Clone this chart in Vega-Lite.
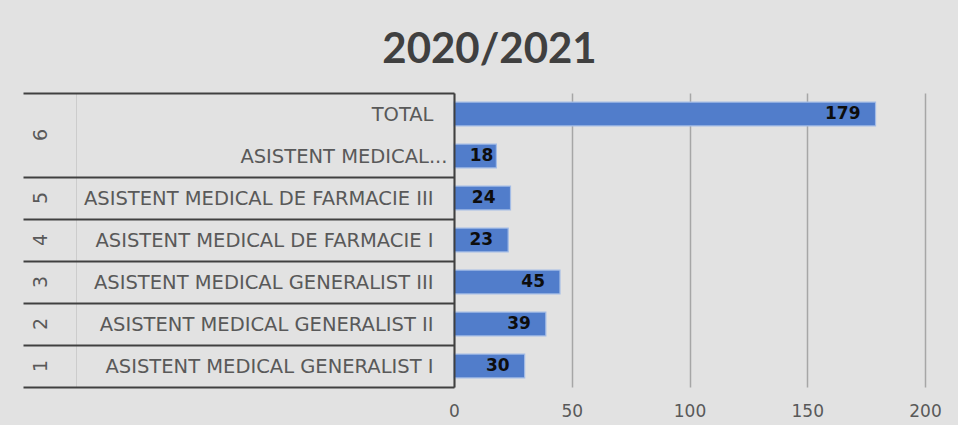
{
  "$schema": "https://vega.github.io/schema/vega-lite/v6.json",
  "width": 471,
  "height": 294,
  "autosize": {"type": "none"},
  "padding": {"left": 454, "top": 93, "right": 33, "bottom": 38},
  "background": "#e2e2e2",
  "title": {
    "text": "2020/2021",
    "font": "Lato",
    "fontSize": 42,
    "fontWeight": "bold",
    "color": "#404040",
    "anchor": "middle",
    "frame": "group",
    "dx": -200,
    "baseline": "alphabetic",
    "offset": -22
  },
  "data": {
    "values": [
      {"group": "6", "label": "TOTAL", "value": 179},
      {"group": "6", "label": "ASISTENT MEDICAL...", "value": 18},
      {"group": "5", "label": "ASISTENT MEDICAL DE FARMACIE III", "value": 24},
      {"group": "4", "label": "ASISTENT MEDICAL DE FARMACIE I", "value": 23},
      {"group": "3", "label": "ASISTENT MEDICAL GENERALIST III", "value": 45},
      {"group": "2", "label": "ASISTENT MEDICAL GENERALIST II", "value": 39},
      {"group": "1", "label": "ASISTENT MEDICAL GENERALIST I", "value": 30}
    ]
  },
  "encoding": {
    "x": {
      "field": "value",
      "type": "quantitative",
      "scale": {"domain": [0, 200], "nice": false, "zero": true},
      "axis": {
        "title": null,
        "domain": false,
        "ticks": false,
        "grid": true,
        "gridColor": "#a6a6a6",
        "gridWidth": 1.5,
        "values": [0, 50, 100, 150, 200],
        "labelFont": "DejaVu Sans",
        "labelFontSize": 17,
        "labelColor": "#595959",
        "labelPadding": 16,
        "labelFlush": false
      }
    }
  },
  "layer": [
    {
      "mark": {"type": "bar", "color": "#517dcb", "stroke": "#a3bce6", "strokeWidth": 1.2, "height": {"band": 0.57}},
      "encoding": {
        "y": {
          "field": "label",
          "type": "nominal",
          "sort": null,
          "scale": {"paddingInner": 0, "paddingOuter": 0},
          "axis": {
            "orient": "left",
            "title": null,
            "grid": false,
            "domainColor": "#404040",
            "domainWidth": 2,
            "ticks": true,
            "tickBand": "extent",
            "tickSize": 431,
            "tickColor": "#404040",
            "tickWidth": 2,
            "tickOpacity": {"condition": {"test": "datum.value === 'TOTAL'", "value": 0}, "value": 1},
            "labelPadding": {"condition": {"test": "datum.value === 'ASISTENT MEDICAL...'", "value": -424}, "value": -410},
            "labelFont": "DejaVu Sans",
            "labelFontSize": 19.5,
            "labelColor": "#595959",
            "labelLimit": 420,
            "labelAlign": "right",
            "labelBaseline": "middle",
            "zindex": 1
          }
        }
      }
    },
    {
      "transform": [{"filter": "datum.value >= 20"}],
      "mark": {"type": "text", "align": "right", "baseline": "middle", "dx": -15, "font": "DejaVu Sans", "fontWeight": "bold", "fontSize": 17, "color": "#0d0d0d"},
      "encoding": {
        "y": {
          "field": "label",
          "type": "nominal",
          "sort": null,
          "axis": {
            "orient": "left",
            "offset": 378,
            "title": null,
            "grid": false,
            "domainColor": "#cccccc",
            "domainWidth": 1,
            "ticks": false,
            "labelAngle": 270,
            "labelAlign": "center",
            "labelBaseline": "middle",
            "labelPadding": 36,
            "labelFont": "DejaVu Sans",
            "labelFontSize": 19,
            "labelColor": "#595959",
            "labelOverlap": false,
            "labelExpr": "datum.value === 'TOTAL' ? '6' : datum.value === 'ASISTENT MEDICAL DE FARMACIE III' ? '5' : datum.value === 'ASISTENT MEDICAL DE FARMACIE I' ? '4' : datum.value === 'ASISTENT MEDICAL GENERALIST III' ? '3' : datum.value === 'ASISTENT MEDICAL GENERALIST II' ? '2' : datum.value === 'ASISTENT MEDICAL GENERALIST I' ? '1' : ''",
            "labelOffset": {"condition": {"test": "datum.value === 'TOTAL'", "value": 21}, "value": 0}
          }
        },
        "text": {"field": "value", "type": "quantitative"}
      }
    },
    {
      "transform": [{"filter": "datum.value < 20"}],
      "mark": {"type": "text", "align": "right", "baseline": "middle", "dx": -3, "font": "DejaVu Sans", "fontWeight": "bold", "fontSize": 17, "color": "#0d0d0d"},
      "encoding": {
        "y": {"field": "label", "type": "nominal", "sort": null, "axis": null},
        "text": {"field": "value", "type": "quantitative"}
      }
    }
  ],
  "resolve": {"axis": {"y": "independent"}},
  "config": {"view": {"stroke": null}}
}
